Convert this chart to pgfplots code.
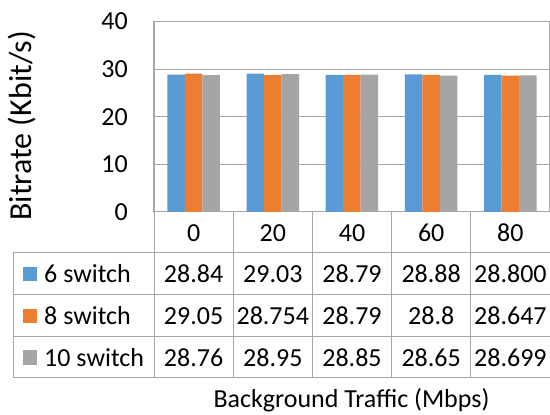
\documentclass[border=0pt]{standalone}
\usepackage{pgfplots}
\pgfplotsset{compat=1.18}
\usepackage{fontspec}
\setmainfont{Carlito}
\definecolor{sblue}{HTML}{5B9BD5}
\definecolor{sorange}{HTML}{ED7D31}
\definecolor{sgray}{HTML}{A5A5A5}
\definecolor{gline}{HTML}{A6A6A6}
\newcommand{\tf}{\fontsize{26}{30}\selectfont}
\begin{document}
\begin{tikzpicture}[x=1pt,y=1pt]
\useasboundingbox (0,0) rectangle (550,415);
\begin{axis}[at={(154pt,203pt)}, anchor=south west, scale only axis,
  width=396pt, height=190.5pt,
  xmin=-0.5, xmax=4.5, ymin=0, ymax=40, ytick={0,10,20,30,40}, xtick=\empty,
  ymajorgrids, major grid style={gline, line width=1pt},
  axis line style={gline, line width=1pt},
  ytick style={draw=none},
  ybar=0pt, bar width=17.5pt,
  yticklabel style={font=\tf, anchor=east, inner sep=0pt, xshift=-26pt},
  /pgf/number format/assume math mode=true,
  clip=false,
]
\addplot[fill=sblue, draw=none] coordinates {(0,28.84) (1,29.03) (2,28.79) (3,28.88) (4,28.800)};
\addplot[fill=sorange, draw=none] coordinates {(0,29.05) (1,28.754) (2,28.79) (3,28.8) (4,28.647)};
\addplot[fill=sgray, draw=none] coordinates {(0,28.76) (1,28.95) (2,28.85) (3,28.65) (4,28.699)};
\end{axis}
\begin{scope}[draw=gline, line width=1pt]
\foreach \x in {154,233.2,312.4,391.6,470.8,550} \draw (\x,203) -- (\x,37);
\draw (13,162) -- (13,37);
\foreach \y in {162,120,78.3,37} \draw (13,\y) -- (550,\y);
\end{scope}
\foreach \c/\t in {193.6/0,272.8/20,352/40,431.2/60,510.4/80}
  \node[font=\tf, inner sep=0pt] at (\c,182) {\t};
\foreach \c/\a/\b/\d in {193.6/28.84/29.05/28.76, 272.8/29.03/28.754/28.95, 352/28.79/28.79/28.85, 431.2/28.88/28.8/28.65, 510.4/28.800/28.647/28.699} {
  \node[font=\tf, inner sep=0pt] at (\c,141) {\a};
  \node[font=\tf, inner sep=0pt] at (\c,99.2) {\b};
  \node[font=\tf, inner sep=0pt] at (\c,57.7) {\d};
}
\fill[sblue] (22.7,133.7) rectangle +(14.5,14.5);
\fill[sorange] (22.7,91.9) rectangle +(14.5,14.5);
\fill[sgray] (22.7,50.4) rectangle +(14.5,14.5);
\node[font=\tf, inner sep=0pt, anchor=west] at (44,141) {6 switch};
\node[font=\tf, inner sep=0pt, anchor=west] at (44,99.2) {8 switch};
\node[font=\tf, inner sep=0pt, anchor=west] at (44,57.7) {10 switch};
\node[font=\tf, inner sep=0pt] at (351.5,15) {Background Traffic (Mbps)};
\node[font=\fontsize{32}{36}\selectfont, inner sep=0pt, rotate=90] at (22.5,289.3) {Bitrate (Kbit/s)};
\end{tikzpicture}
\end{document}
